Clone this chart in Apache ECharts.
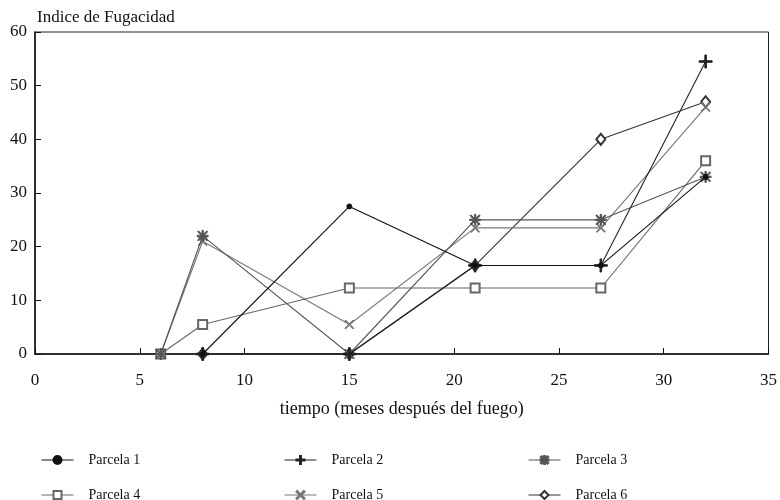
<!DOCTYPE html>
<html>
<head>
<meta charset="utf-8">
<script src="https://cdn.jsdelivr.net/npm/echarts@6/dist/echarts.min.js"></script>
<style>
  html, body { margin: 0; padding: 0; background: #fff; }
  #chart { width: 780px; height: 500px; }
</style>
</head>
<body>
<div id="chart"></div>
<script>
// Muestreos (meses después del fuego)
const months = [6, 8, 15, 21, 27, 32];

// Índice de fugacidad por parcela (null = sin muestreo)
const parcela1 = [null, 0, 27.5, 16.5, 16.5, 33];
const parcela2 = [null, 0, 0, 16.5, 16.5, 54.5];
const parcela3 = [0, 22, 0, 25, 25, 33];
const parcela4 = [0, 5.5, 12.3, 12.3, 12.3, 36];
const parcela5 = [0, 21, 5.5, 23.5, 23.5, 46];
const parcela6 = [null, 0, 0, 16.5, 40, 47];

const seriesNames = ['Parcela 1', 'Parcela 2', 'Parcela 3', 'Parcela 4', 'Parcela 5', 'Parcela 6'];
const xTicks = [0, 5, 10, 15, 20, 25, 30, 35];
const yTicks = [0, 10, 20, 30, 40, 50, 60];

const serif = '"Liberation Serif", "DejaVu Serif", serif';

// Marker shapes drawn as thin filled polygons
const plusPath = 'path://M0,4.4H10V5.6H0Z M4.4,0H5.6V10H4.4Z';
const crossPath = 'path://M0.8,0L5,4.2L9.2,0L10,0.8L5.8,5L10,9.2L9.2,10L5,5.8L0.8,10L0,9.2L4.2,5L0,0.8Z';
const starPath = 'path://M0,4.4H10V5.6H0Z M4.4,0H5.6V10H4.4Z M1.2,0.4L9.6,8.8L8.8,9.6L0.4,1.2Z M8.8,0.4L9.6,1.2L1.2,9.6L0.4,8.8Z';

function pairs(values) {
  const out = [];
  values.forEach((v, i) => { if (v !== null) out.push([months[i], v]); });
  return out;
}

const styles = [
  { color: '#111', symbol: 'circle', size: 5 },
  { color: '#222', symbol: plusPath, size: 13 },
  { color: '#555', symbol: starPath, size: 11 },
  { color: '#666', symbol: 'emptyRect', size: 9 },
  { color: '#777', symbol: crossPath, size: 9 },
  { color: '#333', symbol: 'emptyDiamond', size: [9, 11] }
];
const values = [parcela1, parcela2, parcela3, parcela4, parcela5, parcela6];

const series = values.map((vals, i) => ({
  name: seriesNames[i],
  type: 'line',
  data: pairs(vals),
  symbol: styles[i].symbol,
  symbolSize: styles[i].size,
  showAllSymbol: true,
  lineStyle: { color: styles[i].color, width: 1.1 },
  itemStyle: { color: styles[i].color, borderColor: styles[i].color, borderWidth: 1 },
  emphasis: { disabled: true },
  z: 10 - i
}));

// Legend: three columns, two rows
const legendCols = [36, 279, 523];
const legendRows = [448, 483];
const legends = seriesNames.map((name, i) => ({
  data: [name],
  left: legendCols[i % 3],
  top: legendRows[Math.floor(i / 3)],
  itemWidth: 32,
  itemHeight: 10,
  selectedMode: false,
  lineStyle: { width: 1 },
  textStyle: { fontFamily: serif, fontSize: 14, color: '#111', padding: [0, 0, 0, 10] }
}));

const chart = echarts.init(document.getElementById('chart'), null, { renderer: 'canvas' });
chart.setOption({
  animation: false,
  backgroundColor: '#fff',
  title: {
    text: 'Indice de Fugacidad',
    left: 32,
    top: 4,
    textStyle: { fontFamily: serif, fontSize: 17, fontWeight: 'normal', color: '#111' }
  },
  legend: legends,
  grid: {
    left: 35, right: 10, top: 32, bottom: 146,
    show: true, borderColor: '#222', borderWidth: 1
  },
  xAxis: {
    type: 'value',
    min: xTicks[0],
    max: xTicks[xTicks.length - 1],
    interval: 5,
    name: 'tiempo (meses después del fuego)',
    nameLocation: 'middle',
    nameGap: 46,
    nameTextStyle: { fontFamily: serif, fontSize: 18, color: '#111' },
    axisLine: { onZero: false, lineStyle: { color: '#111', width: 1.5 } },
    axisTick: { inside: true, length: 6, lineStyle: { color: '#111' } },
    axisLabel: { fontFamily: serif, fontSize: 17, color: '#111', margin: 18 },
    splitLine: { show: false }
  },
  yAxis: {
    type: 'value',
    min: yTicks[0],
    max: yTicks[yTicks.length - 1],
    interval: 10,
    axisLine: { show: true, lineStyle: { color: '#111', width: 1.5 } },
    axisTick: { show: true, inside: true, length: 6, lineStyle: { color: '#111' } },
    axisLabel: { fontFamily: serif, fontSize: 17, color: '#111', margin: 8 },
    splitLine: { show: false }
  },
  series: series
});
</script>
</body>
</html>
